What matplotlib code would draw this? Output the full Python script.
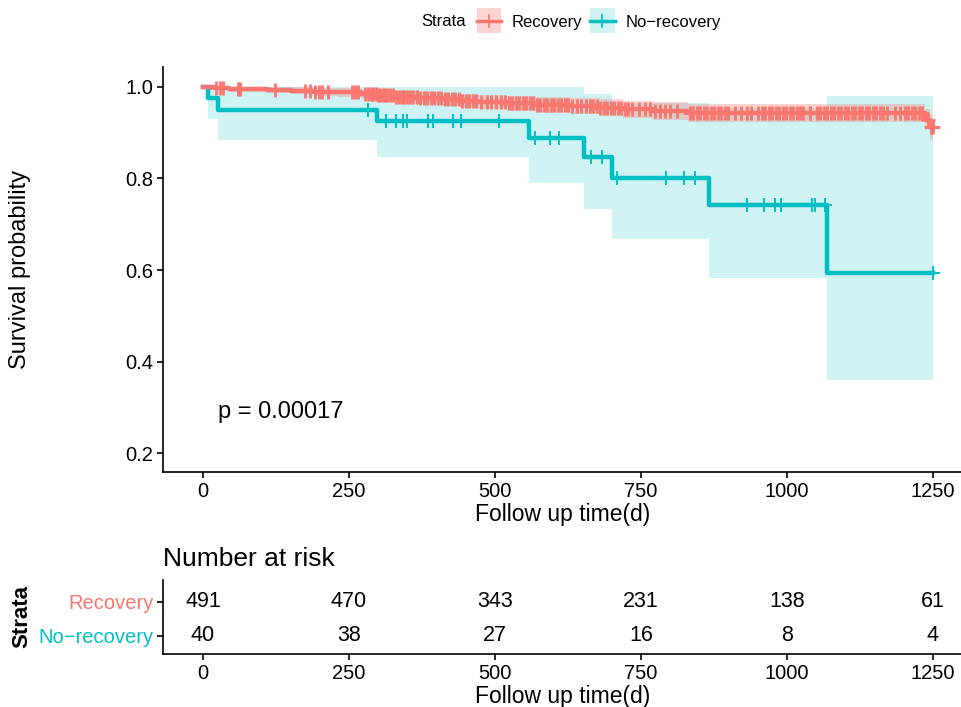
import numpy as np
import matplotlib.pyplot as plt
from matplotlib.patches import Rectangle
from matplotlib.lines import Line2D

plt.rcParams['font.family'] = ['Liberation Sans', 'DejaVu Sans']

RED = '#F8766D'
BLUE = '#00BFC4'

# Kaplan-Meier steps
rec_t = [0, 20, 45, 110, 150, 190, 230, 270, 300, 330, 370, 410, 440, 470, 520,
         570, 630, 680, 720, 770, 830, 1236, 1246]
rec_s = [1.0, 0.998, 0.996, 0.994, 0.992, 0.990, 0.988, 0.985, 0.982, 0.979, 0.976,
         0.973, 0.970, 0.967, 0.964, 0.961, 0.958, 0.954, 0.951, 0.947, 0.943, 0.928, 0.913]
rec_lo = [1.0, 0.994, 0.990, 0.987, 0.984, 0.981, 0.978, 0.975, 0.971, 0.967, 0.963,
          0.959, 0.955, 0.952, 0.948, 0.944, 0.941, 0.936, 0.932, 0.928, 0.924, 0.905, 0.885]
rec_hi = [1.0, 1.0, 1.0, 1.0, 0.999, 0.998, 0.997, 0.995, 0.993, 0.991, 0.989,
          0.987, 0.985, 0.983, 0.981, 0.978, 0.976, 0.973, 0.970, 0.967, 0.963, 0.952, 0.942]
rec_cens = [23, 29, 35, 60, 63, 123, 175, 183, 192, 199, 204, 214, 255, 260, 265, 277, 283,
            288, 292, 296, 300, 304, 308, 312, 316, 320, 325, 330, 335, 340, 345, 350, 355,
            360, 366, 372, 378, 384, 390, 396, 402, 408, 414, 420, 426, 432, 438, 444, 450,
            456, 462, 468, 476, 486, 494, 502, 510, 518, 524, 530, 536, 542, 548, 554, 560,
            566, 572, 578, 584, 590, 596, 602, 608, 614, 620, 626, 632, 640, 648,
            656, 662, 668, 674, 680, 686, 692, 698, 704, 710, 716, 722, 728, 734, 746, 757,
            766, 774, 783, 791, 800, 812, 834, 840, 846, 852, 858, 864, 870, 876, 882, 888,
            894, 900, 911, 922, 931, 939, 951, 957, 963, 969, 975, 981, 987, 993, 999, 1005,
            1011, 1017, 1022, 1028, 1039, 1051, 1057, 1063, 1069, 1075, 1081, 1087, 1093,
            1099, 1105, 1111, 1117, 1123, 1129, 1135, 1141, 1147, 1153, 1159, 1165, 1171,
            1185, 1193, 1202, 1208, 1214, 1220, 1226, 1232, 1242, 1247, 1250]

nor_t = [0, 9, 26, 298, 558, 652, 700, 866, 1068]
nor_s = [1.0, 0.975, 0.95, 0.925, 0.889, 0.846, 0.802, 0.742, 0.594]
nor_lo = [1.0, 0.93, 0.884, 0.847, 0.791, 0.733, 0.668, 0.583, 0.36]
nor_hi = [1.0, 1.0, 1.0, 1.0, 1.0, 0.985, 0.965, 0.955, 0.98]
nor_cens = [283, 313, 330, 342, 349, 385, 394, 428, 442, 507, 568, 594, 610, 664, 683,
            709, 793, 824, 842, 932, 961, 979, 990, 1043, 1048, 1065, 1250]

t_end = 1250
risk_times = [0, 250, 500, 750, 1000, 1250]
risk_rec = [491, 470, 343, 231, 138, 61]
risk_nor = [40, 38, 27, 16, 8, 4]
p_text = 'p = 0.00017'


def surv_at(times, vals, t):
    idx = np.searchsorted(times, t, side='right') - 1
    return np.asarray(vals)[idx]


fig = plt.figure(figsize=(9.62, 7.07), dpi=100)
W, H = 962, 707
ax = fig.add_axes([163 / W, 1 - 472 / H, 1 - 163 / W, 405 / H])

for t, lo, hi, color, alpha in [(nor_t, nor_lo, nor_hi, BLUE, 0.19), (rec_t, rec_lo, rec_hi, RED, 0.3)]:
    ax.fill_between(np.append(t, t_end), np.append(lo, lo[-1]), np.append(hi, hi[-1]),
                    step='post', color=color, alpha=alpha, lw=0)
for t, s, cens, color, mew in [(nor_t, nor_s, nor_cens, BLUE, 1.4), (rec_t, rec_s, rec_cens, RED, 2.0)]:
    ax.step(np.append(t, t_end), np.append(s, s[-1]), where='post', color=color, lw=3.2)
    ax.plot(cens, surv_at(t, s, cens), ls='none', marker='+', ms=10, mew=mew, color=color)

ax.set_xlim(-68.5, 1300)
ax.set_ylim(0.1585, 1.0437)
ax.set_xticks(risk_times)
ax.set_yticks([0.2, 0.4, 0.6, 0.8, 1.0])
ax.set_yticklabels(['0.2', '0.4', '0.6', '0.8', '1.0'])
for sp in ['top', 'right']:
    ax.spines[sp].set_visible(False)
for sp in ['left', 'bottom']:
    ax.spines[sp].set_linewidth(1.2)
ax.tick_params(labelsize=14.5, length=4, width=1.2, colors='black', pad=3)
ax.set_xlabel('Follow up time(d)', fontsize=16.5, labelpad=2)
ax.set_ylabel('Survival probability', fontsize=17)
ax.yaxis.set_label_coords(-0.165, 0.5)
ax.text(25, 0.29, p_text, fontsize=17, va='center', ha='left')

# legend drawn at the top
fig.text(421 / W, 1 - 22 / H, 'Strata', fontsize=12, va='center', ha='left')
for x0, x1, color, label, alpha in [(477, 501, RED, 'Recovery', 0.3),
                                    (590, 615, BLUE, 'No\u2212recovery', 0.19)]:
    fig.patches.append(Rectangle((x0 / W, 1 - 33 / H), (x1 - x0) / W, 25 / H,
                                 transform=fig.transFigure, color=color, alpha=alpha, lw=0))
    fig.lines.append(Line2D([x0 / W, x1 / W], [1 - 21 / H, 1 - 21 / H],
                            transform=fig.transFigure, color=color, lw=2.5))
    fig.lines.append(Line2D([(x0 + x1) / 2 / W] * 2, [1 - 15 / H, 1 - 27 / H],
                            transform=fig.transFigure, color=color, lw=1.2))
    fig.text((x1 + 11) / W, 1 - 22 / H, label, fontsize=12, va='center', ha='left')

# risk table
tab = fig.add_axes([163 / W, 1 - 654 / H, 1 - 163 / W, 74 / H])
for i, (rv, nv) in enumerate(zip(risk_rec, risk_nor)):
    tab.text(risk_times[i], 2, str(rv), ha='center', va='center', fontsize=15.5)
    tab.text(risk_times[i], 1, str(nv), ha='center', va='center', fontsize=15.5)
tab.set_xlim(-68.5, 1300)
tab.set_ylim(0.47, 2.647)
tab.set_xticks(risk_times)
tab.set_yticks([2, 1])
tab.set_yticklabels(['Recovery', 'No\u2212recovery'])
for lab, color in zip(tab.get_yticklabels(), [RED, BLUE]):
    lab.set_color(color)
for sp in ['top', 'right']:
    tab.spines[sp].set_visible(False)
for sp in ['left', 'bottom']:
    tab.spines[sp].set_linewidth(1.2)
tab.tick_params(labelsize=14.5, length=4, width=1.2, pad=3)
tab.set_xlabel('Follow up time(d)', fontsize=16.5, labelpad=2)
tab.set_ylabel('Strata', fontsize=16, fontweight='bold')
tab.yaxis.set_label_coords(-0.163, 0.5)
tab.set_title('Number at risk', fontsize=19, loc='left', pad=10)

fig.savefig('out.png', dpi=100)
